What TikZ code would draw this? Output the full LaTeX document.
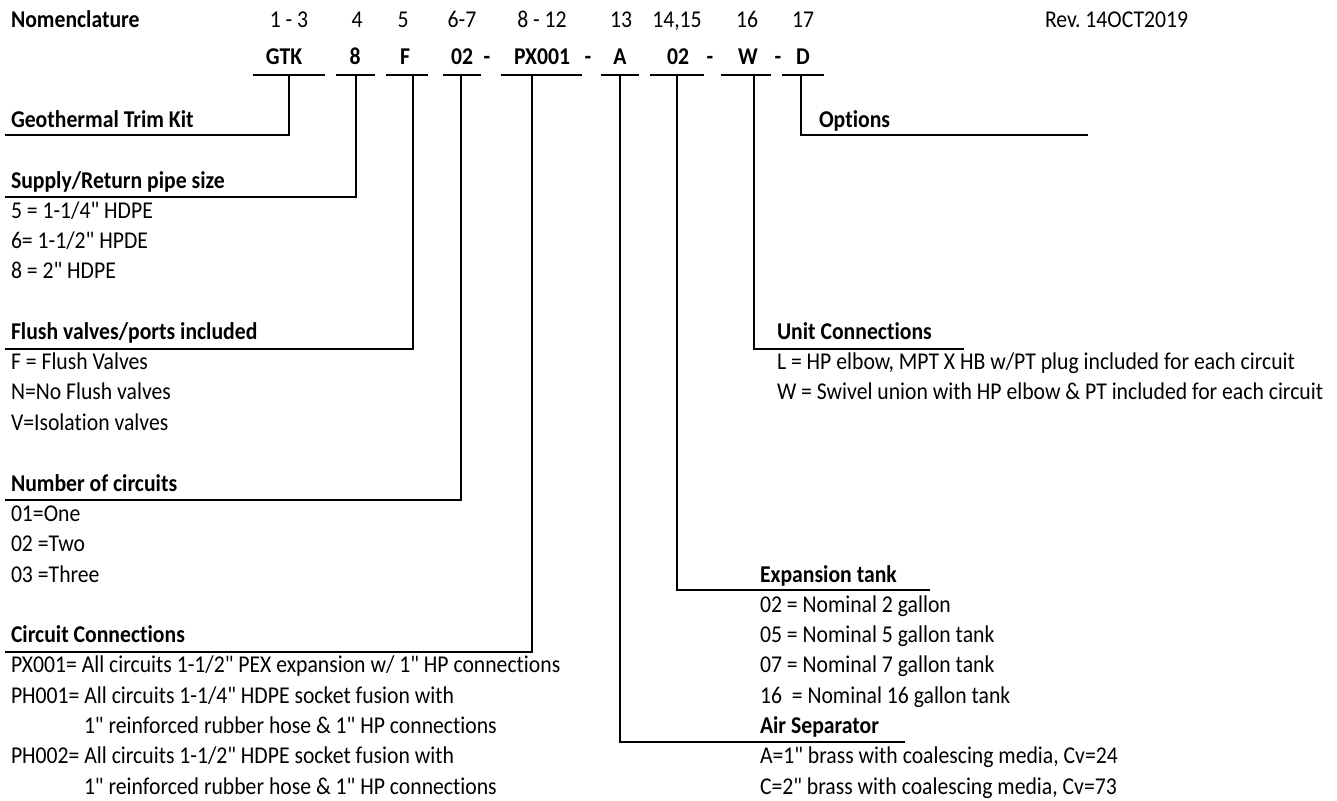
\documentclass[tikz,border=0pt]{standalone}
\usepackage{fontspec}
\setmainfont{Carlito}[Ligatures={TeXOff,CommonOff},FakeStretch=0.9]
\begin{document}
\begin{tikzpicture}[x=1pt,y=-1pt,line width=2pt,
  every node/.style={inner sep=0pt,font=\fontsize{24.1}{28}\selectfont},
  head/.style={anchor=base west,font=\fontsize{24.1}{28}\selectfont\bfseries},
  item/.style={anchor=base west},
  num/.style={anchor=base},
  code/.style={anchor=base,font=\fontsize{24.1}{28}\selectfont\bfseries}]

\useasboundingbox (0,0) rectangle (1337,800);

% top rows
\node [head] (title) at (10,28) {Nomenclature};
\node [num] (n13) at (289,28) {1 - 3};
\node [num] (n4) at (357,28) {4};
\node [num] (n5) at (403,28) {5};
\node [num] (n67) at (462,28) {6-7};
\node [num] (n812) at (542,28) {8 - 12};
\node [num] (n13b) at (621,28) {13};
\node [num] (n1415) at (677,28) {14,15};
\node [num] (n16) at (747,28) {16};
\node [num] (n17) at (803,28) {17};
\node [item] (rev) at (1044,28) {Rev.\ 14OCT2019};

\node [code] (cGTK) at (284,64) {GTK};
\node [code] (cSize) at (355,64) {8};
\node [code] (cFlush) at (405,64) {F};
\node [code] (cCirc) at (462,64) {02};
\node [code] (dash1) at (487,64) {-};
\node [code] (cConn) at (542,64) {PX001};
\node [code] (dash2) at (588,64) {-};
\node [code] (cAir) at (620,64) {A};
\node [code] (cTank) at (678,64) {02};
\node [code] (dash3) at (710,64) {-};
\node [code] (cUnit) at (748,64) {W};
\node [code] (dash4) at (778,64) {-};
\node [code] (cOpt) at (803,64) {D};

\draw (253,75) -- (325,75);
\draw (336,75) -- (375,75);
\draw (386,75) -- (428,75);
\draw (443,75) -- (481,75);
\draw (501,75) -- (582,75);
\draw (601,75) -- (639,75);
\draw (650,75) -- (704,75);
\draw (721,75) -- (771,75);
\draw (782,75) -- (824,75);

% left column
\node [head] (hGeo) at (10,127) {Geothermal Trim Kit};

\node [head] (hSize) at (10,188) {Supply/Return pipe size};
\node [item] (s1) at (10,218) {5 = 1-1/4" HDPE};
\node [item] (s2) at (10,248) {6= 1-1/2" HPDE};
\node [item] (s3) at (10,278) {8 = 2" HDPE};

\node [head] (hFlush) at (10,339) {Flush valves/ports included};
\node [item] (f1) at (10,369) {F = Flush Valves};
\node [item] (f2) at (10,399) {N=No Flush valves};
\node [item] (f3) at (10,430) {V=Isolation valves};

\node [head] (hCirc) at (10,491) {Number of circuits};
\node [item] (k1) at (10,521) {01=One};
\node [item] (k2) at (10,551) {02 =Two};
\node [item] (k3) at (10,582) {03 =Three};

\node [head] (hConn) at (10,642) {Circuit Connections};
\node [item] (p1) at (10,672) {PX001= All circuits 1-1/2" PEX expansion w/ 1" HP connections};
\node [item] (p2) at (10,703) {PH001= All circuits 1-1/4" HDPE socket fusion with};
\node [item] (p2b) at (83,733) {1" reinforced rubber hose \& 1" HP connections};
\node [item] (p3) at (10,763) {PH002= All circuits 1-1/2" HDPE socket fusion with};
\node [item] (p3b) at (83,794) {1" reinforced rubber hose \& 1" HP connections};

% right column
\node [head] (hOpt) at (818,127) {Options};

\node [head] (hUnit) at (776,339) {Unit Connections};
\node [item] (u1) at (776,369) {L = HP elbow, MPT X HB w/PT plug included for each circuit};
\node [item] (u2) at (776,399) {W = Swivel union with HP elbow \& PT included for each circuit};

\node [head] (hTank) at (759,582) {Expansion tank};
\node [item] (t1) at (759,612) {02 = Nominal 2 gallon};
\node [item] (t2) at (759,642) {05 = Nominal 5 gallon tank};
\node [item] (t3) at (759,672) {07 = Nominal 7 gallon tank};
\node [item] (t4) at (759,703) {16\ \ = Nominal 16 gallon tank};

\node [head] (hAir) at (759,733) {Air Separator};
\node [item] (a1) at (759,763) {A=1" brass with coalescing media, Cv=24};
\node [item] (a2) at (759,794) {C=2" brass with coalescing media, Cv=73};

% leaders
\coordinate (tGTK) at (289,75);   \coordinate (eGeo) at (5,135);
\coordinate (tSize) at (356,75);  \coordinate (eSize) at (5,197);
\coordinate (tFlush) at (413,75); \coordinate (eFlush) at (5,349);
\coordinate (tCirc) at (461,75);  \coordinate (eCirc) at (5,500);
\coordinate (tConn) at (532,75);  \coordinate (eConn) at (5,652);
\coordinate (tAir) at (620,75);   \coordinate (eAir) at (905,742);
\coordinate (tTank) at (677,75);  \coordinate (eTank) at (930,590);
\coordinate (tUnit) at (754,75);  \coordinate (eUnit) at (964,349);
\coordinate (tOpt) at (801,75);   \coordinate (eOpt) at (1088,135);

\draw (tGTK) |- (eGeo);
\draw (tSize) |- (eSize);
\draw (tFlush) |- (eFlush);
\draw (tCirc) |- (eCirc);
\draw (tConn) |- (eConn);
\draw (tAir) |- (eAir);
\draw (tTank) |- (eTank);
\draw (tUnit) |- (eUnit);
\draw (tOpt) |- (eOpt);

\end{tikzpicture}
\end{document}
